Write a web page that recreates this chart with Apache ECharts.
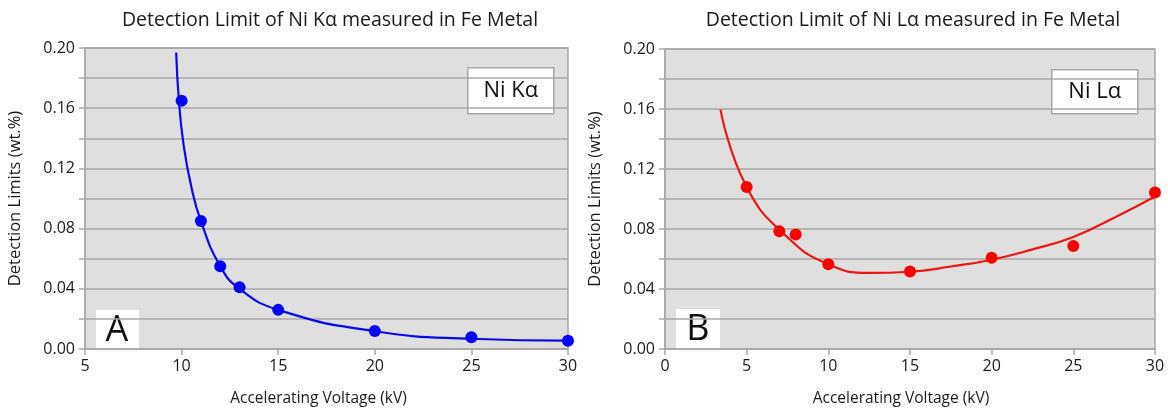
<!DOCTYPE html>
<html><head><meta charset="utf-8">
<script src="https://cdn.jsdelivr.net/npm/echarts@6/dist/echarts.min.js"></script>
<style>html,body{margin:0;padding:0;background:#fff}#c{width:1168px;height:412px}</style>
</head><body><div id="c"></div>
<script>
// Panel A: Ni Kα measured points
const kaVoltage = [10, 11, 12, 13, 15, 20, 25, 30];
const kaLimit   = [0.165, 0.085, 0.055, 0.041, 0.026, 0.012, 0.0078, 0.0055];
// Panel A: trend curve
const kaCurveX = [9.72, 9.86, 10.1, 10.5, 11, 12, 13, 15, 20, 25, 30];
const kaCurveY = [0.197, 0.165, 0.136, 0.108, 0.085, 0.055, 0.040, 0.026, 0.0118, 0.0068, 0.0055];
// Panel B: Ni Lα measured points
const laVoltage = [5, 7, 8, 10, 15, 20, 25, 30];
const laLimit   = [0.108, 0.0785, 0.0763, 0.0565, 0.0517, 0.0609, 0.0686, 0.1043];
// Panel B: trend curve
const laCurveX = [3.4, 5, 7.5, 10, 12.5, 15, 17.5, 20, 22.5, 25, 27.5, 30];
const laCurveY = [0.1596, 0.108, 0.0745, 0.0565, 0.0507, 0.0515, 0.055, 0.0595, 0.0664, 0.0747, 0.0875, 0.1017];
const titles = ['Detection Limit of Ni K\u03b1 measured in Fe Metal', 'Detection Limit of Ni L\u03b1 measured in Fe Metal'];
const yName = 'Detection Limits (wt.%)';
const xName = 'Accelerating Voltage (kV)';
const boxLabels = ['Ni K\u03b1', 'Ni L\u03b1'];
const panelLetters = ['A', 'B'];

const FONT = '"Open Sans", "DejaVu Sans", sans-serif';
const zip = (xs, ys) => xs.map((x, i) => [x, ys[i]]);
function yAxis(gi) {
  return {
    type: 'value', gridIndex: gi, min: 0, max: 0.2, interval: 0.02,
    name: yName, nameLocation: 'middle', nameGap: 61,
    nameTextStyle: {fontFamily: FONT, fontSize: 16.5, color: '#1a1a1a'},
    axisLine: {show: true, lineStyle: {color: '#a8a8a8', width: 1.5}},
    axisTick: {show: true, length: 6, lineStyle: {color: '#a8a8a8', width: 1.5}},
    splitLine: {show: true, lineStyle: {color: '#a8a8a8', width: 1.5}},
    axisLabel: {fontFamily: FONT, fontSize: 16, color: '#1a1a1a', margin: 10,
      formatter: v => (Math.round(v * 100) % 4 === 0 ? v.toFixed(2) : '')}
  };
}
function xAxis(gi, min, shift) {
  return {
    type: 'value', gridIndex: gi, min: min, max: 30, interval: 5,
    name: xName, nameLocation: 'middle', nameGap: 42,
    nameTextStyle: {fontFamily: FONT, fontSize: 15.5, color: '#1a1a1a', padding: [0, shift, 0, 0]},
    axisLine: {show: true, onZero: false, lineStyle: {color: '#a8a8a8', width: 1.5}},
    axisTick: {show: true, length: 6, lineStyle: {color: '#a8a8a8', width: 1.5}},
    splitLine: {show: false},
    axisLabel: {fontFamily: FONT, fontSize: 16, color: '#1a1a1a', margin: 9}
  };
}
const chart = echarts.init(document.getElementById('c'), null, {renderer: 'canvas'});
chart.setOption({
  animation: false,
  title: [
    {text: titles[0], left: 325, top: 5, textAlign: 'center', textStyle: {fontFamily: FONT, fontSize: 19.5, fontWeight: 'normal', color: '#1a1a1a'}},
    {text: titles[1], left: 908, top: 5, textAlign: 'center', textStyle: {fontFamily: FONT, fontSize: 19.5, fontWeight: 'normal', color: '#1a1a1a'}}
  ],
  grid: [
    {left: 85, top: 48, width: 483, height: 301, show: true, backgroundColor: '#dfdfdf', borderColor: '#a8a8a8', borderWidth: 1.5},
    {left: 665, top: 49, width: 490, height: 303, show: true, backgroundColor: '#dfdfdf', borderColor: '#a8a8a8', borderWidth: 1.5}
  ],
  xAxis: [xAxis(0, 5, 16), xAxis(1, 0, 18)],
  yAxis: [yAxis(0), yAxis(1)],
  series: [
    {type: 'line', xAxisIndex: 0, yAxisIndex: 0, data: zip(kaCurveX, kaCurveY), smooth: 0.5, showSymbol: false, lineStyle: {color: '#0a0ae8', width: 2.2}, z: 3},
    {type: 'scatter', xAxisIndex: 0, yAxisIndex: 0, data: zip(kaVoltage, kaLimit), symbolSize: 12, itemStyle: {color: '#0000ff', opacity: 1}, z: 4},
    {type: 'line', xAxisIndex: 1, yAxisIndex: 1, data: zip(laCurveX, laCurveY), smooth: 0.5, showSymbol: false, lineStyle: {color: '#ee1414', width: 2.2}, z: 3},
    {type: 'scatter', xAxisIndex: 1, yAxisIndex: 1, data: zip(laVoltage, laLimit), symbolSize: 12, itemStyle: {color: '#ff0000', opacity: 1}, z: 4}
  ],
  graphic: [
    {type: 'group', left: 467, top: 67, children: [
      {type: 'rect', shape: {x: 0, y: 0, width: 86, height: 46}, style: {fill: '#fff', stroke: '#a8a8a8', lineWidth: 1.5}},
      {type: 'text', x: 43, y: 23, style: {text: boxLabels[0], fontFamily: FONT, fontSize: 22, fill: '#111', align: 'center', verticalAlign: 'middle'}}
    ]},
    {type: 'group', left: 1051, top: 69, children: [
      {type: 'rect', shape: {x: 0, y: 0, width: 86, height: 44}, style: {fill: '#fff', stroke: '#a8a8a8', lineWidth: 1.5}},
      {type: 'text', x: 43, y: 22, style: {text: boxLabels[1], fontFamily: FONT, fontSize: 22, fill: '#111', align: 'center', verticalAlign: 'middle'}}
    ]},
    {type: 'group', left: 96, top: 310, children: [
      {type: 'rect', shape: {x: 0, y: 0, width: 43, height: 40}, style: {fill: '#fff'}},
      {type: 'text', x: 21, y: 21, style: {text: panelLetters[0], fontFamily: FONT, fontSize: 36, fill: '#111', align: 'center', verticalAlign: 'middle'}}
    ]},
    {type: 'group', left: 676, top: 309, children: [
      {type: 'rect', shape: {x: 0, y: 0, width: 44, height: 41}, style: {fill: '#fff'}},
      {type: 'text', x: 22, y: 21, style: {text: panelLetters[1], fontFamily: FONT, fontSize: 36, fill: '#111', align: 'center', verticalAlign: 'middle'}}
    ]}
  ]
});
</script></body></html>
